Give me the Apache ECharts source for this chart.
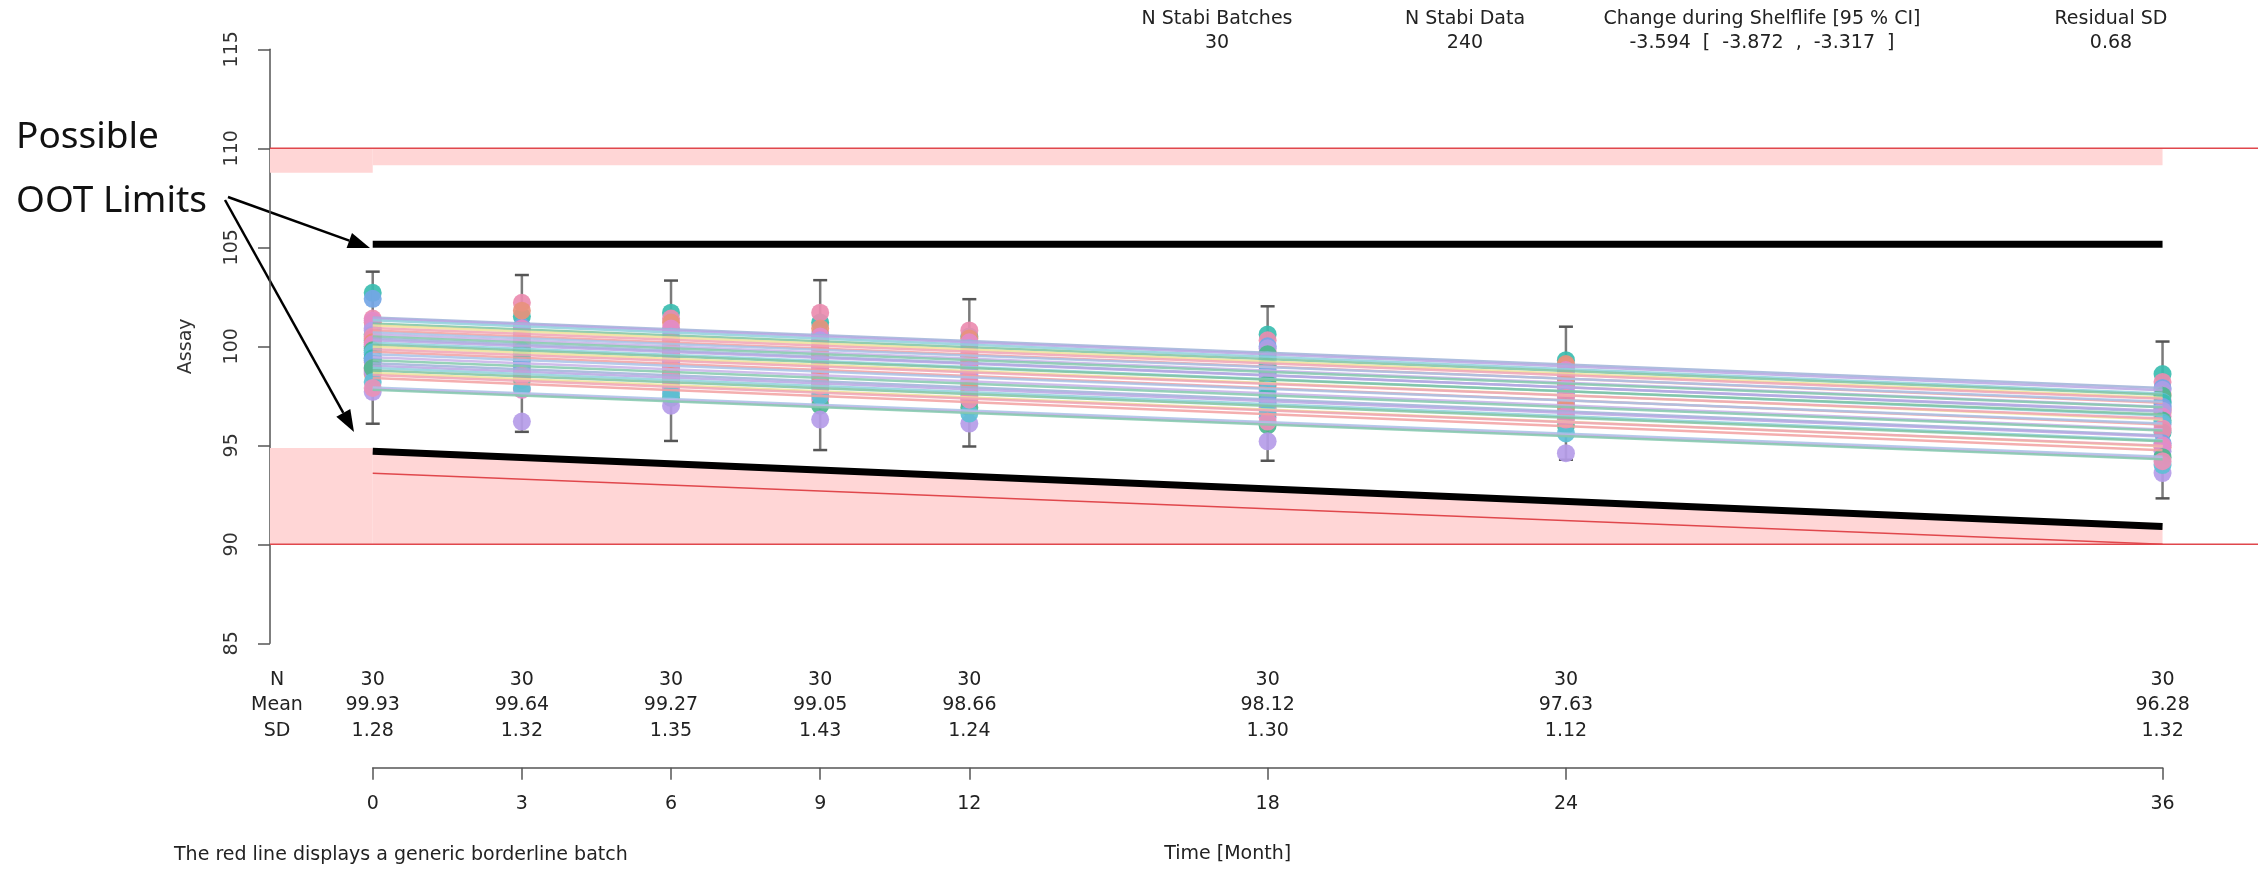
<!DOCTYPE html>
<html>
<head>
<meta charset="utf-8" />
<title>Assay stability</title>
<style>
  html, body { margin: 0; padding: 0; background: #fff; }
  #main { width: 2265px; height: 872px; }
</style>
<script src="https://cdn.jsdelivr.net/npm/echarts@6.0.0/dist/echarts.min.js"></script>
</head>
<body>
<div id="main"></div>
<script>
// time points and summary table
var months = [0, 3, 6, 9, 12, 18, 24, 36];
var statN = [30, 30, 30, 30, 30, 30, 30, 30];
var statMean = [99.93, 99.64, 99.27, 99.05, 98.66, 98.12, 97.63, 96.28];
var statSD = [1.28, 1.32, 1.35, 1.43, 1.24, 1.30, 1.12, 1.32];
var barLow = [96.09, 95.68, 95.22, 94.76, 94.94, 94.22, 94.27, 92.32];
var barHigh = [103.77, 103.60, 103.32, 103.34, 102.38, 102.02, 100.99, 100.24];

// header statistics
var headNames = ['N Stabi Batches', 'N Stabi Data', 'Change during Shelflife [95 % CI]', 'Residual SD'];
var headValues = ['30', '240', '-3.594  [  -3.872  ,  -3.317  ]', '0.68'];

// assay per batch (index = batch) at each time point
var assayM0 = [102.7, 101.4, 102.4, 101.2, 100.9, 101.3, 100.6, 100.8, 100.3, 100.5, 100.0, 100.4, 99.9, 100.2, 99.6, 100.1, 99.8, 99.4, 99.7, 99.2, 99.4, 98.8, 99.3, 98.6, 98.7, 98.9, 98.9, 97.7, 98.2, 97.9];
var assayM3 = [101.5, 102.2, 101.0, 101.8, 100.5, 100.9, 100.2, 100.7, 100.0, 100.4, 99.8, 100.1, 99.9, 99.9, 99.6, 99.6, 99.8, 99.3, 99.5, 98.9, 99.3, 98.7, 99.0, 98.4, 98.6, 97.8, 98.3, 96.2, 97.9, 98.5];
var assayM6 = [101.7, 101.4, 100.8, 101.2, 100.3, 100.9, 100.0, 100.5, 99.8, 100.2, 99.6, 99.9, 99.3, 99.7, 99.1, 99.5, 98.9, 99.2, 98.6, 98.9, 98.3, 98.7, 98.0, 98.5, 97.8, 98.2, 97.4, 97.0, 97.6, 98.4];
var assayM9 = [101.2, 101.7, 100.6, 100.9, 100.2, 100.5, 99.9, 100.3, 99.6, 100.0, 99.4, 99.7, 99.1, 99.5, 98.9, 99.2, 98.7, 99.0, 98.4, 98.8, 98.1, 98.5, 97.9, 98.2, 97.6, 97.3, 97.0, 96.3, 97.5, 98.0];
var assayM12 = [100.5, 100.8, 100.1, 100.4, 99.8, 100.2, 99.5, 99.9, 99.2, 99.6, 99.0, 99.3, 98.7, 99.1, 98.5, 98.8, 98.2, 98.6, 98.0, 98.3, 97.7, 98.1, 97.5, 97.8, 97.2, 97.4, 96.9, 96.1, 96.6, 97.3];
var assayM18 = [100.6, 100.3, 100.0, 99.7, 99.9, 99.4, 99.6, 99.1, 99.3, 98.8, 99.0, 98.6, 98.7, 98.3, 98.4, 98.0, 98.1, 97.7, 97.8, 97.4, 97.5, 97.1, 97.2, 96.8, 96.9, 96.4, 96.0, 95.2, 96.6, 96.2];
var assayM24 = [99.3, 99.0, 98.8, 99.1, 98.6, 98.8, 98.3, 98.5, 98.1, 98.2, 98.2, 98.4, 98.0, 98.1, 97.7, 97.9, 97.5, 97.6, 97.2, 97.4, 97.0, 97.1, 96.7, 96.9, 96.4, 96.5, 96.0, 94.6, 95.6, 96.3];
var assayM36 = [98.6, 98.2, 97.9, 97.6, 97.8, 97.3, 97.5, 97.0, 97.2, 96.8, 97.15, 96.85, 96.95, 96.65, 96.75, 96.45, 96.25, 96.05, 96.15, 95.85, 95.65, 95.75, 95.1, 94.9, 94.7, 95.0, 94.4, 93.6, 94.0, 94.2];
var assayByTime = [assayM0, assayM3, assayM6, assayM9, assayM12, assayM18, assayM24, assayM36];

// batch regression lines: value at month 0 and month 36
var batchStart = [101.45, 101.40, 101.32, 101.15, 101.05, 100.92, 100.80, 100.70, 100.60, 100.50, 100.40, 100.30, 100.18, 100.08, 99.98, 99.85, 99.72, 99.60, 99.45, 99.30, 99.15, 99.02, 98.90, 98.78, 98.65, 98.55, 98.40, 97.92, 97.85, 97.80];
var batchEnd = [97.90, 97.78, 97.62, 97.55, 97.40, 97.35, 97.15, 97.20, 96.95, 96.92, 96.70, 96.75, 96.50, 96.55, 96.30, 96.35, 96.05, 96.10, 95.80, 95.75, 95.50, 95.45, 95.25, 95.20, 94.95, 94.98, 94.75, 94.42, 94.35, 94.30];

// limits
var uslValue = 110;
var lslValue = 90;
var borderline = [93.594, 90.0];
var ootUpper = [105.15, 105.15];
var ootLower = [94.7, 90.9];
// shaded regions: [xFrom, xTo, lowFrom, lowTo, highFrom, highTo]
var xLeft = -2.066, xRight = 37.92;
var bands = [
  [xLeft, 0, 108.77, 108.77, 110, 110],
  [0, 36, 109.15, 109.15, 110, 110],
  [xLeft, 0, 90, 90, 94.86, 94.86],
  [0, 36, 90, 90, 94.86, 90.85]
];

var pointColors = ['#3bbdb0', '#ec8cb0', '#74a6e6', '#e8937c', '#ae9de6', '#e48bc9', '#4db88f', '#b59ce8', '#60bfd6', '#e991b8'];
var lineColors = ['#9fb3d8', '#b7a7e3', '#8fd0dc', '#7fc4a2', '#eee19a', '#f0a3b5', '#f2a0a0', '#a8c2e6', '#c7b2e8', '#84c9ad'];
var font = 'DejaVu Sans';

var chart = echarts.init(document.getElementById('main'));

var series = [];

series.push({
  type: 'custom',
  xAxisIndex: 0, yAxisIndex: 0,
  silent: true,
  data: bands,
  encode: { x: [0, 1], y: [2, 3, 4, 5] },
  renderItem: function (params, api) {
    var x0 = api.value(0), x1 = api.value(1);
    var pts = [
      api.coord([x0, api.value(2)]), api.coord([x1, api.value(3)]),
      api.coord([x1, api.value(5)]), api.coord([x0, api.value(4)])
    ];
    return { type: 'polygon', shape: { points: pts }, style: { fill: '#ffd6d6' } };
  }
});

[uslValue, lslValue].forEach(function (v) {
  series.push({
    type: 'line', silent: true, symbol: 'none',
    data: [[xLeft, v], [xRight, v]],
    lineStyle: { color: '#e0474c', width: 1.5 }
  });
});

series.push({
  type: 'line', silent: true, symbol: 'none',
  data: [[0, borderline[0]], [36, borderline[1]]],
  lineStyle: { color: '#e0474c', width: 1.5 }
});

for (var b = 0; b < batchStart.length; b++) {
  series.push({
    type: 'line', silent: true, symbol: 'none',
    data: [[0, batchStart[b]], [36, batchEnd[b]]],
    lineStyle: { color: lineColors[b % lineColors.length], width: 2.5, opacity: 0.85 }
  });
}

var barData = months.map(function (m, i) { return [m, barLow[i], barHigh[i]]; });
series.push({
  type: 'custom', silent: true,
  data: barData,
  encode: { x: 0, y: [1, 2] },
  renderItem: function (params, api) {
    var lo = api.coord([api.value(0), api.value(1)]);
    var hi = api.coord([api.value(0), api.value(2)]);
    var w = 7;
    var st = { stroke: '#7b7b7b', lineWidth: 2.5 };
    var cap = { stroke: '#555', lineWidth: 2.5 };
    return {
      type: 'group', children: [
        { type: 'line', shape: { x1: lo[0], y1: lo[1], x2: hi[0], y2: hi[1] }, style: st },
        { type: 'line', shape: { x1: hi[0] - w, y1: hi[1], x2: hi[0] + w, y2: hi[1] }, style: cap },
        { type: 'line', shape: { x1: lo[0] - w, y1: lo[1], x2: lo[0] + w, y2: lo[1] }, style: cap }
      ]
    };
  }
});

var pointData = [];
months.forEach(function (m, k) {
  assayByTime[k].forEach(function (v, i) { pointData.push([m, v, i]); });
});
series.push({
  type: 'scatter', silent: true,
  symbolSize: 18,
  data: pointData,
  itemStyle: {
    opacity: 0.92,
    color: function (p) { return pointColors[p.data[2] % pointColors.length]; }
  }
});

[ootUpper, ootLower].forEach(function (l) {
  series.push({
    type: 'line', silent: true, symbol: 'none',
    data: [[0, l[0]], [36, l[1]]],
    lineStyle: { color: '#000', width: 7, cap: 'butt' }
  });
});

var specLabels = ['USL', 'LSL'];
series.push({
  type: 'scatter', silent: true, symbolSize: 1,
  itemStyle: { opacity: 0 },
  data: [
    { value: [0, uslValue], label: { position: 'top' } },
    { value: [0, lslValue], label: { position: 'bottom' } }
  ],
  label: {
    show: true, distance: 10, color: '#d93a40', fontSize: 19, fontFamily: font,
    formatter: function (p) { return specLabels[p.dataIndex]; }
  }
});

// summary table under the plot
var tableText = [];
var tableData = [];
months.forEach(function (m, i) {
  [String(statN[i]), statMean[i].toFixed(2), statSD[i].toFixed(2)].forEach(function (t, r) {
    tableData.push([m, r]);
    tableText.push(t);
  });
});
series.push({
  type: 'custom', silent: true,
  xAxisIndex: 2, yAxisIndex: 2,
  data: tableData,
  encode: { x: 0, y: 1 },
  renderItem: function (params, api) {
    var p = api.coord([api.value(0), api.value(1)]);
    return {
      type: 'text', x: p[0], y: p[1],
      style: { text: tableText[params.dataIndex], fill: '#222', font: '19px "DejaVu Sans"', textAlign: 'center', textVerticalAlign: 'middle' }
    };
  }
});

function arrow(x1, y1, x2, y2) {
  var ang = Math.atan2(y2 - y1, x2 - x1);
  var len = 22, half = 8;
  var bx = x2 - len * Math.cos(ang), by = y2 - len * Math.sin(ang);
  var px = -Math.sin(ang) * half, py = Math.cos(ang) * half;
  return [
    { type: 'line', shape: { x1: x1, y1: y1, x2: bx, y2: by }, style: { stroke: '#000', lineWidth: 2.5 } },
    { type: 'polygon', shape: { points: [[x2, y2], [bx + px, by + py], [bx - px, by - py]] }, style: { fill: '#000' } }
  ];
}

var graphics = [];
headNames.forEach(function (n, i) {
  var cx = [1217, 1465, 1762, 2111][i];
  graphics.push({ type: 'text', x: cx, y: 19, style: { text: n, fill: '#222', font: '19px "DejaVu Sans"', textAlign: 'center', textVerticalAlign: 'middle' } });
  graphics.push({ type: 'text', x: cx, y: 43, style: { text: headValues[i], fill: '#222', font: '19px "DejaVu Sans"', textAlign: 'center', textVerticalAlign: 'middle' } });
});
graphics.push({ type: 'text', x: 174, y: 855, style: { text: 'The red line displays a generic borderline batch', fill: '#222', font: '19px "DejaVu Sans"', textVerticalAlign: 'middle' } });
graphics.push({ type: 'text', x: 16, y: 137, style: { text: 'Possible', fill: '#111', font: '37px "Noto Sans"', textVerticalAlign: 'middle' } });
graphics.push({ type: 'text', x: 16, y: 201, style: { text: 'OOT Limits', fill: '#111', font: '37px "Noto Sans"', textVerticalAlign: 'middle' } });
graphics = graphics.concat(arrow(228, 197, 370, 248), arrow(225, 200, 354, 432));

var option = {
  animation: false,
  textStyle: { fontFamily: font },
  grid: [
    { left: 270, width: 1988, top: 49.3, height: 594 },
    { left: 372.7, width: 1789.9, top: 745, height: 22.7 },
    { left: 372.7, width: 1789.9, top: 667.5, height: 76 }
  ],
  xAxis: [
    { gridIndex: 0, type: 'value', min: xLeft, max: xRight, show: false },
    {
      gridIndex: 1, type: 'value', min: 0, max: 36,
      name: 'Time [Month]', nameLocation: 'middle', nameGap: 77,
      nameTextStyle: { fontSize: 19, color: '#222', padding: [0, 80, 0, 0] },
      axisLine: { onZero: false, lineStyle: { color: '#555', width: 1.5 } },
      axisTick: { length: 12, customValues: months, lineStyle: { color: '#555', width: 1.5 } },
      axisLabel: { customValues: months, margin: 27, fontSize: 19, color: '#222' },
      splitLine: { show: false }
    },
    { gridIndex: 2, type: 'value', min: 0, max: 36, show: false }
  ],
  yAxis: [
    {
      gridIndex: 0, type: 'value', min: 85, max: 115, interval: 5,
      name: 'Assay', nameLocation: 'middle', nameGap: 74,
      nameTextStyle: { fontSize: 19, color: '#333' },
      axisLine: { show: true, onZero: false, lineStyle: { color: '#555', width: 1.5 } },
      axisTick: { show: true, length: 12, lineStyle: { color: '#555', width: 1.5 } },
      axisLabel: { rotate: 90, margin: 28, fontSize: 19, color: '#333' },
      splitLine: { show: false }
    },
    { gridIndex: 1, type: 'value', show: false },
    {
      gridIndex: 2, type: 'category', data: ['N', 'Mean', 'SD'], inverse: true,
      axisLine: { show: false }, axisTick: { show: false },
      axisLabel: { margin: 95.7, align: 'center', fontSize: 19, color: '#222' }
    }
  ],
  graphic: graphics,
  series: series
};

chart.setOption(option);
</script>
</body>
</html>
